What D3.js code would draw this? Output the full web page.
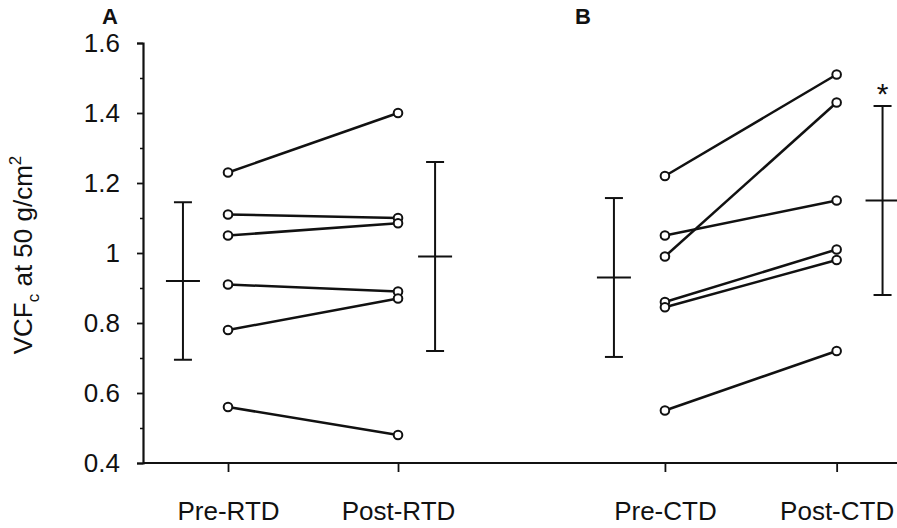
<!DOCTYPE html>
<html>
<head>
<meta charset="utf-8">
<script src="https://cdn.jsdelivr.net/npm/d3@7"></script>
<style>
  body { margin: 0; background: #fff; }
  text { font-family: "Liberation Sans", Arial, Helvetica, sans-serif; fill: #111; }
</style>
</head>
<body>
<div id="chart"></div>
<script>
var w = 897;
var h = 528;

// *** DATA ***
var categories = ["Pre-RTD", "Post-RTD", "Pre-CTD", "Post-CTD"];
var panelLabels = ["A", "B"];
var yTicks = [0.4, 0.6, 0.8, 1, 1.2, 1.4, 1.6];
var yTickLabels = ["0.4", "0.6", "0.8", "1", "1.2", "1.4", "1.6"];

// individual subjects, paired pre -> post
var preRTD  = [1.23, 1.11, 1.05, 0.91, 0.78, 0.56];
var postRTD = [1.40, 1.10, 1.085, 0.89, 0.87, 0.48];
var preCTD  = [1.22, 1.05, 0.99, 0.86, 0.845, 0.55];
var postCTD = [1.51, 1.15, 1.43, 1.01, 0.98, 0.72];

// group mean +/- SD (one per category)
var meanValues = [0.92, 0.99, 0.93, 1.15];
var sdValues   = [0.225, 0.27, 0.227, 0.27];
var significant = [false, false, false, true];
// **************

var fontSize = "26px";

var margin = {top: 43, right: 0, bottom: 65, left: 143},
    width = w - margin.left - margin.right,
    height = h - margin.top - margin.bottom;

// category slots along x (1 unit = distance pre -> post)
var slotX = [1, 2, 3.57, 4.58];
var errOffset = [-0.265, 0.218, -0.3, 0.27];

var x = d3.scaleLinear().domain([0.5, 4.935]).range([0, width]);
var y = d3.scaleLinear().domain([0.4, 1.6]).range([height, 0]);

var svg = d3.select("#chart").append("svg")
    .attr("width", w)
    .attr("height", h);

var g = svg.append("g")
    .attr("transform", "translate(" + margin.left + "," + margin.top + ")");

// minor y ticks
g.append("g")
    .attr("class", "axis axis--y-minor")
    .call(d3.axisLeft(y).tickValues(d3.range(0.5, 1.6, 0.2)).tickSize(3).tickFormat(""))
    .call(function(s) { s.select(".domain").remove(); })
    .selectAll("line").attr("stroke", "#111").attr("stroke-width", 1.5);

// y axis
var yAxis = g.append("g")
    .attr("class", "axis axis--y")
    .call(d3.axisLeft(y).tickValues(yTicks).tickSize(6).tickPadding(17)
      .tickFormat(function(d, i) { return yTickLabels[i]; }));
yAxis.select(".domain").attr("stroke", "#111").attr("stroke-width", 2.2);
yAxis.selectAll("line").attr("stroke", "#111").attr("stroke-width", 1.8);
yAxis.selectAll("text").style("font-size", fontSize).attr("fill", "#111")
    .style("font-family", "'Liberation Sans', Arial, sans-serif");

// x axis
var xAxis = g.append("g")
    .attr("class", "axis axis--x")
    .attr("transform", "translate(0," + height + ")")
    .call(d3.axisBottom(x).tickValues(slotX).tickSizeOuter(0).tickSize(9).tickPadding(30)
      .tickFormat(function(d, i) { return categories[i]; }));
xAxis.select(".domain").attr("stroke", "#111").attr("stroke-width", 2.2)
    .attr("d", "M0,0H" + width);
xAxis.selectAll("line").attr("stroke", "#111").attr("stroke-width", 1.8);
xAxis.selectAll("text").style("font-size", fontSize).attr("fill", "#111")
    .style("font-family", "'Liberation Sans', Arial, sans-serif");

// y axis title with subscript / superscript
var title = svg.append("text")
    .attr("transform", "translate(32," + (margin.top + y(1.0) + 2) + ") rotate(-90)")
    .attr("text-anchor", "middle")
    .style("font-size", fontSize);
title.append("tspan").text("VCF");
title.append("tspan").attr("dy", 7).style("font-size", "17px").text("c");
title.append("tspan").attr("dy", -7).text(" at 50 g/cm");
title.append("tspan").attr("dy", -11).style("font-size", "17px").text("2");

// panel labels
svg.selectAll(".panel-label")
    .data(panelLabels)
    .enter().append("text")
    .attr("class", "panel-label")
    .attr("x", function(d, i) { return margin.left + x(slotX[i * 2]) - (i === 0 ? 126 : 90); })
    .attr("y", 24)
    .style("font-size", "22px")
    .style("font-weight", "bold")
    .text(function(d) { return d; });

// paired subject lines
var pairs = [];
preRTD.forEach(function(v, i) { pairs.push({a: 0, b: 1, va: v, vb: postRTD[i]}); });
preCTD.forEach(function(v, i) { pairs.push({a: 2, b: 3, va: v, vb: postCTD[i]}); });

g.selectAll(".pair")
    .data(pairs)
    .enter().append("line")
    .attr("class", "pair")
    .attr("x1", function(d) { return x(slotX[d.a]); })
    .attr("y1", function(d) { return y(d.va); })
    .attr("x2", function(d) { return x(slotX[d.b]); })
    .attr("y2", function(d) { return y(d.vb); })
    .attr("stroke", "#111")
    .attr("stroke-width", 2.5);

var points = [];
pairs.forEach(function(p) {
  points.push({c: p.a, v: p.va});
  points.push({c: p.b, v: p.vb});
});

g.selectAll(".pt")
    .data(points)
    .enter().append("circle")
    .attr("class", "pt")
    .attr("cx", function(d) { return x(slotX[d.c]); })
    .attr("cy", function(d) { return y(d.v); })
    .attr("r", 4.3)
    .attr("fill", "#fff")
    .attr("stroke", "#111")
    .attr("stroke-width", 2);

// mean +/- SD bars
var errs = g.selectAll(".err")
    .data(meanValues)
    .enter().append("g")
    .attr("class", "err")
    .attr("transform", function(d, i) { return "translate(" + x(slotX[i] + errOffset[i]) + ",0)"; });

errs.append("line")
    .attr("y1", function(d, i) { return y(d + sdValues[i]); })
    .attr("y2", function(d, i) { return y(d - sdValues[i]); })
    .attr("stroke", "#111").attr("stroke-width", 2);
errs.append("line")
    .attr("x1", -9).attr("x2", 9)
    .attr("y1", function(d, i) { return y(d + sdValues[i]); })
    .attr("y2", function(d, i) { return y(d + sdValues[i]); })
    .attr("stroke", "#111").attr("stroke-width", 2);
errs.append("line")
    .attr("x1", -9).attr("x2", 9)
    .attr("y1", function(d, i) { return y(d - sdValues[i]); })
    .attr("y2", function(d, i) { return y(d - sdValues[i]); })
    .attr("stroke", "#111").attr("stroke-width", 2);
errs.append("line")
    .attr("x1", -17).attr("x2", 17)
    .attr("y1", function(d) { return y(d); })
    .attr("y2", function(d) { return y(d); })
    .attr("stroke", "#111").attr("stroke-width", 2);
errs.filter(function(d, i) { return significant[i]; })
    .append("text")
    .attr("text-anchor", "middle")
    .attr("y", function(d, i) { return y(d + sdValues[3]) - 2; })
    .style("font-size", "30px")
    .text("*");
</script>
</body>
</html>
